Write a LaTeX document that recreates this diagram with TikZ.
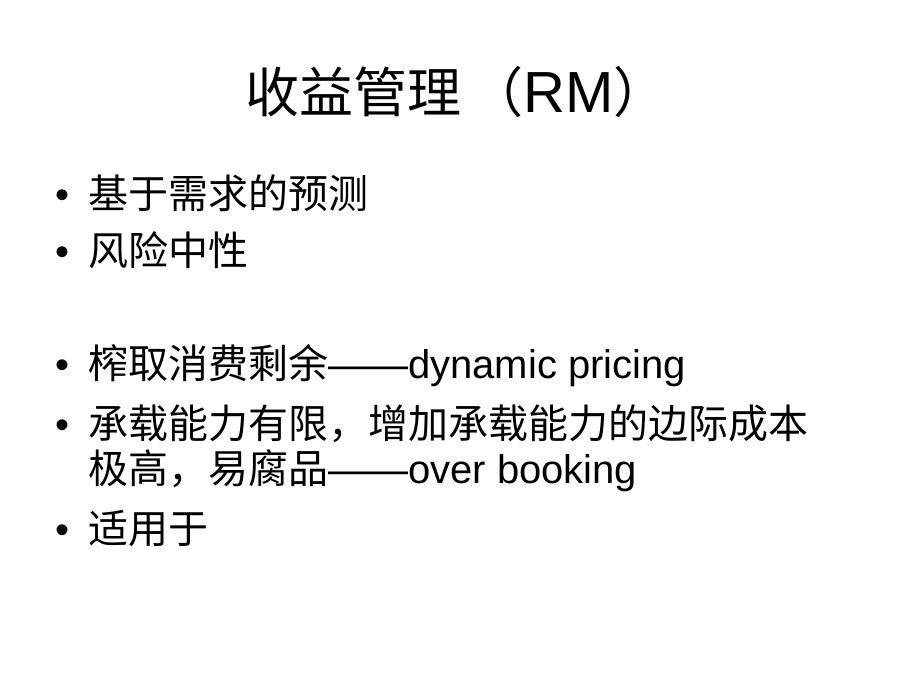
\documentclass[tikz,border=0pt]{standalone}
\usepackage{fontspec}
\setmainfont{Liberation Sans}
\newfontfamily\cjk{Noto Sans CJK SC}
\usetikzlibrary{positioning}

\tikzset{
    titletext/.style={anchor=base west, inner sep=0pt, font=\fontsize{54}{60}\selectfont},
    itemtext/.style={anchor=base west, inner sep=0pt, font=\fontsize{40}{46}\selectfont},
    itemdot/.style={anchor=base, inner sep=0pt, font=\fontsize{40}{46}\selectfont}
}

\begin{document}
\begin{tikzpicture}[x=1pt, y=-1pt]

\useasboundingbox[fill=white] (0,0) rectangle (900,675);

% Title
\node[titletext] (title) at (245,112) {{\cjk 收益管理\kern0.15em（}{\fontsize{58}{60}\selectfont RM}{\cjk ）}};

% Bullet dots
\foreach \y/\n in {208/1, 265/2, 378/3, 438/4, 543/5}
{
    \node[itemdot] (dot\n) at (63,\y) {\textbullet};
}

% Bullet texts
\node[itemtext] (item1) at (88,208) {\cjk 基于需求的预测};
\node[itemtext] (item2) at (88,265) {\cjk 风险中性};
\node[itemtext] (item3) at (88,378) {{\cjk 榨取消费剩余}——dynamic pricing};
\node[itemtext] (item4) at (88,438) {\cjk 承载能力有限，增加承载能力的边际成本};
\node[itemtext] (item4b) at (88,483) {{\cjk 极高，易腐品}——over booking};
\node[itemtext] (item5) at (88,543) {\cjk 适用于};

\end{tikzpicture}
\end{document}
